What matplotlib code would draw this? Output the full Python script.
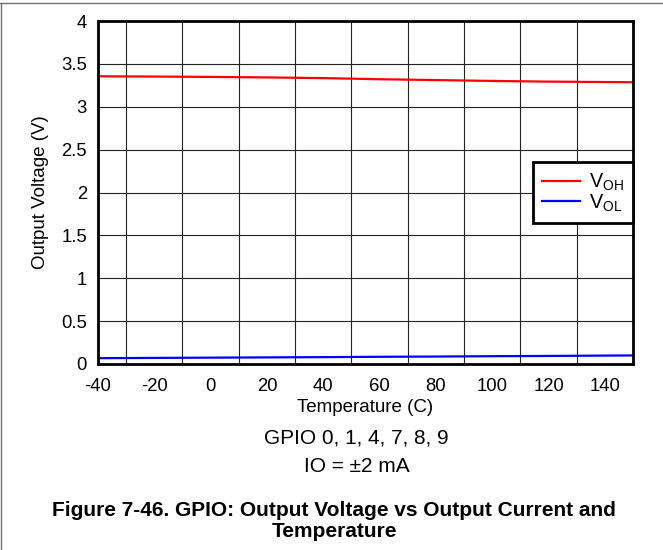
import matplotlib
matplotlib.use("Agg")
import matplotlib.pyplot as plt
from matplotlib.lines import Line2D

plt.rcParams["font.family"] = ["Liberation Sans", "DejaVu Sans"]
plt.rcParams["mathtext.fontset"] = "custom"
plt.rcParams["mathtext.rm"] = "Liberation Sans"
plt.rcParams["axes.unicode_minus"] = False

# Measured output levels over temperature
temperature = [-40, -20, 0, 20, 40, 60, 80, 100, 120, 150]
voh = [3.355, 3.352, 3.348, 3.342, 3.334, 3.321, 3.311, 3.301, 3.293, 3.286]
vol = [0.068, 0.071, 0.074, 0.077, 0.080, 0.084, 0.087, 0.091, 0.094, 0.100]

x_ticks = [-40, -20, 0, 20, 40, 60, 80, 100, 120, 140]
y_ticks = [0, 0.5, 1, 1.5, 2, 2.5, 3, 3.5, 4]
x_grid = list(range(-40, 151, 10))

fig = plt.figure(figsize=(6.63, 5.5), dpi=100)
ax = fig.add_axes([98 / 663, 1 - 364 / 550, 535 / 663, 343 / 550])

ax.set_xlim(-40, 150)
ax.set_ylim(0, 4)
ax.set_xticks(x_ticks)
ax.set_yticks(y_ticks)
ax.set_yticklabels(["0", "0.5", "1", "1.5", "2", "2.5", "3", "3.5", "4"])
ax.set_xticks(x_grid, minor=True)
ax.tick_params(which="both", length=0, labelsize=13.3)
ax.tick_params(axis="x", pad=10)
ax.tick_params(axis="y", pad=8)
ax.grid(True, which="minor", axis="x", color="#222222", lw=0.8)
ax.grid(True, which="major", axis="y", color="#222222", lw=0.8)
ax.set_axisbelow(True)
for s in ax.spines.values():
    s.set_linewidth(2.0)
    s.set_color("black")

ax.plot(temperature, voh, color="#ff0000", lw=1.6, label=r"$\mathregular{V_{OH}}$")
ax.plot(temperature, vol, color="#0000ff", lw=1.6, label=r"$\mathregular{V_{OL}}$")

ax.set_xlabel("Temperature (C)", fontsize=13.5, labelpad=3)
ax.set_ylabel("Output Voltage (V)", fontsize=13.5, labelpad=9)

leg = ax.legend(loc="upper right", bbox_to_anchor=(1.0, 0.589), fontsize=14.2,
                frameon=True, fancybox=False, framealpha=1, edgecolor="black",
                borderpad=0.48, handlelength=1.9, handletextpad=0.45,
                labelspacing=-0.02, borderaxespad=0)
leg.get_frame().set_linewidth(2.0)

fig.text(356 / 663, 1 - 438 / 550, "GPIO 0, 1, 4, 7, 8, 9", ha="center", va="center", fontsize=15)
fig.text(357 / 663, 1 - 467 / 550, "IO = \u00b12 mA", ha="center", va="center", fontsize=15)
fig.text(334 / 663, 1 - 521 / 550,
         "Figure 7-46. GPIO: Output Voltage vs Output Current and\nTemperature",
         ha="center", va="center", fontsize=15, fontweight="bold", linespacing=1.08)

# page border lines along the top and left edges
fig.add_artist(Line2D([0, 1], [1 - 3 / 550, 1 - 3 / 550], transform=fig.transFigure,
                      color="#707070", lw=1.0))
fig.add_artist(Line2D([1 / 663, 1 / 663], [0, 1 - 3 / 550], transform=fig.transFigure,
                      color="#707070", lw=1.0))

fig.savefig("out.png", dpi=100)
